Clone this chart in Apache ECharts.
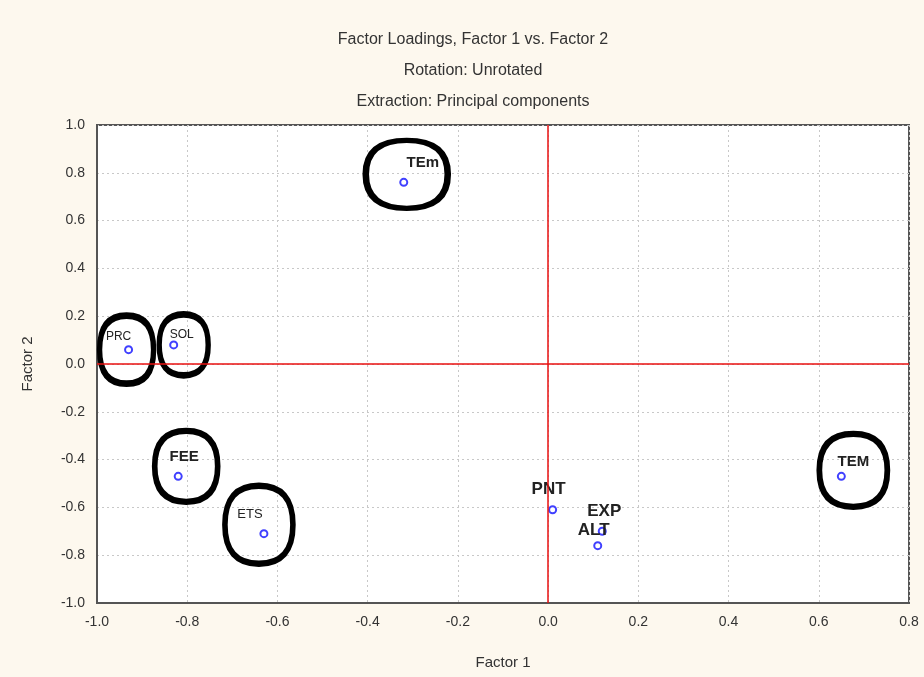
<!DOCTYPE html>
<html>
<head>
<meta charset="utf-8">
<script src="https://cdn.jsdelivr.net/npm/echarts@6/dist/echarts.min.js"></script>
<style>
  html, body { margin: 0; padding: 0; background: #fdf8ee; }
  #chart { width: 924px; height: 677px; }
</style>
</head>
<body>
<div id="chart"></div>
<script>
// Variable names and their loadings on the first two factors
const variables = ['TEm', 'PRC', 'SOL', 'FEE', 'ETS', 'PNT', 'EXP', 'ALT', 'TEM'];
const factor1   = [-0.32, -0.93, -0.83, -0.82, -0.63, 0.01, 0.12, 0.11, 0.65];
const factor2   = [0.76, 0.06, 0.08, -0.47, -0.71, -0.61, -0.70, -0.76, -0.47];

// Variables ringed by hand on the plot
const ringed = ['TEm', 'PRC', 'SOL', 'FEE', 'ETS', 'TEM'];

// Axis ranges / tick steps
const xRange = [-1.0, 0.8];
const yRange = [-1.0, 1.0];
const tickStep = 0.2;

// Label look per variable: [offsetX, offsetY, fontSize]
const labelLook = {
  TEm: [19, -20, 15], PRC: [-10, -13, 12], SOL: [8, -10, 12],
  FEE: [6, -19, 15],  ETS: [-14, -19, 13], PNT: [-4, -20, 17],
  EXP: [2, -20, 17],  ALT: [-4, -15, 17],  TEM: [12, -14, 15]
};
// Ring look per variable: [width, height, offsetX, offsetY]
const ringLook = {
  TEm: [82, 68, 3, -8],  PRC: [54, 68, -2, 0], SOL: [49, 61, 10, 0],
  FEE: [63, 71, 8, -10], ETS: [68, 78, -5, -9], TEM: [68, 73, 12, -6]
};

const points = variables.map((name, i) => {
  const lk = labelLook[name];
  return {
    name: name,
    value: [factor1[i], factor2[i]],
    label: {
      show: true,
      formatter: name,
      position: 'inside',
      offset: [lk[0], lk[1]],
      fontSize: lk[2],
      fontWeight: lk[2] >= 15 ? 'bold' : 'normal',
      color: '#222',
      fontFamily: 'Liberation Sans, Arial, sans-serif'
    }
  };
});

const rings = ringed.map(name => {
  const i = variables.indexOf(name);
  const r = ringLook[name];
  return {
    name: name,
    value: [factor1[i], factor2[i]],
    symbolSize: [r[0], r[1]],
    symbolOffset: [r[2], r[3]]
  };
});

const blob = 'path://M50,0 Q100,0 100,50 Q100,100 50,100 Q0,100 0,50 Q0,0 50,0 Z';

const chart = echarts.init(document.getElementById('chart'), null, { renderer: 'canvas' });
chart.setOption({
  backgroundColor: '#fdf8ee',
  animation: false,
  textStyle: { fontFamily: 'Liberation Sans, Arial, sans-serif' },
  title: {
    text: 'Factor Loadings, Factor 1 vs. Factor 2\nRotation: Unrotated\nExtraction: Principal components',
    left: 468,
    textAlign: 'center',
    top: 19,
    textStyle: { fontSize: 16, fontWeight: 'normal', color: '#333', lineHeight: 31 }
  },
  grid: {
    left: 97, right: 15, top: 125, bottom: 74,
    show: true, backgroundColor: '#ffffff',
    borderColor: '#555', borderWidth: 2
  },
  xAxis: {
    type: 'value',
    min: xRange[0], max: xRange[1], interval: tickStep,
    name: 'Factor 1', nameLocation: 'middle', nameGap: 52,
    nameTextStyle: { fontSize: 15, color: '#333' },
    axisLine: { show: true, onZero: false, lineStyle: { color: '#555', width: 2 } },
    axisTick: { show: false },
    axisLabel: { fontSize: 14, color: '#333', margin: 12, formatter: v => v.toFixed(1) },
    splitLine: { show: true, lineStyle: { color: '#c8c8c8', type: [2, 3], width: 1 } }
  },
  yAxis: {
    type: 'value',
    min: yRange[0], max: yRange[1], interval: tickStep,
    name: 'Factor 2', nameLocation: 'middle', nameGap: 62, nameRotate: 90,
    nameTextStyle: { fontSize: 15, color: '#333' },
    axisLine: { show: true, onZero: false, lineStyle: { color: '#555', width: 2 } },
    axisTick: { show: false },
    axisLabel: { fontSize: 14, color: '#333', margin: 12, formatter: v => v.toFixed(1) },
    splitLine: { show: true, lineStyle: { color: '#c8c8c8', type: [2, 3], width: 1 } }
  },
  series: [
    {
      type: 'scatter',
      name: 'Loadings',
      symbol: 'emptyCircle',
      symbolSize: 7,
      itemStyle: { color: '#4040ff', borderColor: '#4040ff', borderWidth: 1.5, opacity: 1 },
      data: points,
      z: 3,
      markLine: {
        silent: true,
        symbol: ['none', 'none'],
        label: { show: false },
        lineStyle: { color: '#e81010', type: 'solid', width: 1.5, opacity: 1 },
        data: [{ xAxis: 0 }, { yAxis: 0 }]
      }
    },
    {
      type: 'scatter',
      name: 'Rings',
      symbol: blob,
      itemStyle: { color: 'rgba(0,0,0,0)', borderColor: '#000', borderWidth: 6, opacity: 1 },
      data: rings,
      silent: true,
      z: 4
    }
  ]
});
</script>
</body>
</html>
